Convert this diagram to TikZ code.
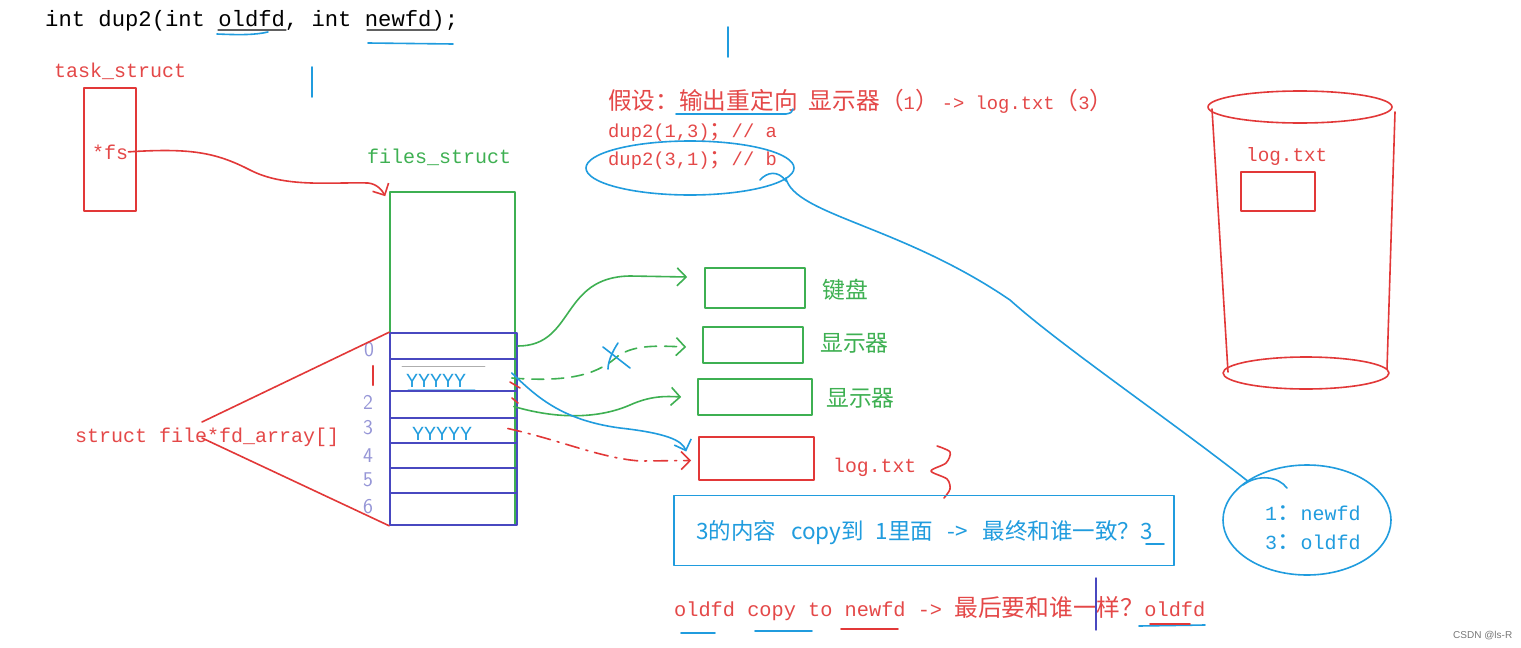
\documentclass[tikz,border=0pt]{standalone}
\usepackage{fontspec}
\setmainfont{Liberation Mono}
\newfontfamily\cjk[Scale=1.17]{Noto Sans CJK SC}
\newfontfamily\cjkb[Scale=1.26]{Noto Sans CJK SC}
\newfontfamily\cjkplain{Noto Sans CJK SC}
\newfontfamily\wmfont{Liberation Sans}
\newcommand{\zh}[1]{{\cjk #1}}
\newcommand{\zhb}[1]{{\cjkb #1}}
\usetikzlibrary{arrows.meta,shapes.geometric,calc}
\definecolor{cred}{RGB}{226,56,56}
\definecolor{tred}{RGB}{228,72,72}
\definecolor{cgreen}{RGB}{62,176,82}
\definecolor{cblue}{RGB}{32,156,222}
\definecolor{cindigo}{RGB}{72,72,192}
\definecolor{clav}{RGB}{150,150,215}
\definecolor{cgray}{RGB}{120,120,120}
\tikzset{
  fsz/.style={font=\fontsize{#1}{#1}\selectfont},
  lw/.style={line width=1.6pt},
  txt/.style={anchor=base west, inner sep=0pt},
  redbox/.style={draw=cred, line width=1.6pt, inner sep=0pt},
  greenbox/.style={draw=cgreen, line width=1.6pt, inner sep=0pt},
  rowbox/.style={draw=cindigo, line width=1.6pt, inner sep=0pt, minimum width=127},
  digit/.style={text=clav, inner sep=0pt, font={\sffamily\fontsize{21}{21}\selectfont}},
  barb/.style={-{Straight Barb[length=9pt,width=18pt]}}
}
\begin{document}
\begin{tikzpicture}[x=1pt,y=-1pt, line cap=round, line join=round]
\useasboundingbox[fill=white] (0,0) rectangle (1521,648);

% signature
\node[txt, fsz=22.2] (sig) at (45,26) {int dup2(int oldfd, int newfd);};
\draw[cgray!80!black, line width=1.2pt] (218,30) -- (286,30);
\draw[cgray!80!black, line width=1.2pt] (367,30) -- (435,30);
\draw[cblue, lw] (217,34) .. controls (240,35) and (255,35) .. (268,32);
\draw[cblue, lw] (368,43) -- (453,44);
\draw[cblue, lw] (312,67) -- (312,97);
\draw[cblue, lw] (728,27) -- (728,57);

% task_struct
\node[txt, text=tred, fsz=20] (tasklbl) at (54,77) {task\_struct};
\node[redbox, minimum width=52, minimum height=123] (task) at (110,149.5) {};
\node[txt, text=tred, fsz=20] (fs) at (92,159) {*fs};

% files_struct
\node[txt, text=cgreen, fsz=20] (fileslbl) at (367,163) {files\_struct};
\node[greenbox, minimum width=125, minimum height=333] (files) at (452.5,358.5) {};

\node[rowbox, minimum height=26] (r0) at (453.5,346) {};
\node[rowbox, minimum height=32] (r1) at (453.5,375) {};
\node[rowbox, minimum height=27] (r2) at (453.5,404.5) {};
\node[rowbox, minimum height=25] (r3) at (453.5,430.5) {};
\node[rowbox, minimum height=25] (r4) at (453.5,455.5) {};
\node[rowbox, minimum height=25] (r5) at (453.5,480.5) {};
\node[rowbox, minimum height=32] (r6) at (453.5,509) {};

\draw[cgray!60, line width=0.8pt] (402,366) -- (485,366);
\node[txt, text=cblue, fsz=20] (y1) at (406,387) {YYYYY};
\draw[cblue!50, line width=0.8pt] (408,389) -- (475,389);
\node[txt, text=cblue, fsz=20] (y3) at (412,440) {YYYYY};

% index digits
\node[digit] (d0) at (369,350) {0};
\draw[cred, line width=2.2pt] (373,366) -- (373,385);
\node[digit] (dg2) at (368,402) {2};
\node[digit] (dg3) at (368,428) {3};
\node[digit] (dg4) at (368,456) {4};
\node[digit] (dg5) at (368,480) {5};
\node[digit] (dg6) at (368,507) {6};

% fd_array
\node[txt, text=tred, fsz=20] (fdarr) at (75,442) {struct file*fd\_array[]};
\draw[cred, lw] (202,422) -- (r0.north west);
\draw[cred, lw] (202,438) -- (r6.south west);

% fs arrow
\draw[cred, lw, barb] (fs.east) .. controls (190,148) and (215,152) .. (250,170)
  .. controls (285,188) and (330,182) .. (368,183)
  .. controls (377,184) and (382,190) .. ($(files.north west)+(-4,5)$);

% right boxes
\node[greenbox, minimum width=100, minimum height=40] (kb) at (755,288) {};
\node[anchor=west, inner sep=0pt, text=cgreen, fsz=19.5] (kblbl) at (822,290) {\zh{键盘}};
\node[greenbox, minimum width=100, minimum height=36] (d1) at (753,345) {};
\node[anchor=west, inner sep=0pt, text=cgreen, fsz=19.5] (d1lbl) at (820,343) {\zh{显示器}};
\node[greenbox, minimum width=114, minimum height=36] (d2) at (755,397) {};
\node[anchor=west, inner sep=0pt, text=cgreen, fsz=19.5] (d2lbl) at (826,398) {\zh{显示器}};
\node[redbox, minimum width=115, minimum height=43] (lg) at (756.5,458.5) {};
\node[txt, text=tred, fsz=19.8] (lglbl) at (833,472) {log.txt};
\draw[cred, lw] plot[smooth] coordinates {(937,446) (950,452) (946,463) (931,471) (947,479) (950,489) (944,498)};

% connectors from the array
\draw[cgreen, lw, barb] (r0.east) .. controls (575,346) and (560,277) .. (630,276) -- ($(kb.west)+(-17,-11)$);
\draw[cgreen, lw, dash pattern=on 12pt off 8pt, barb] ($(r1.east)+(-6,3)$) .. controls (575,383) and (600,372) .. (618,356)
  .. controls (635,344) and (660,346) .. ($(d1.west)+(-16,2)$);
\draw[cblue, lw] (603,347) -- (630,368);
\draw[cblue, lw] (618,343) .. controls (612,352) and (608,362) .. (608,369);
\draw[cgreen, lw, barb] ($(r2.east)+(-4,2)$) .. controls (560,420) and (600,418) .. (630,405)
  .. controls (650,396) and (665,396) .. ($(d2.west)+(-16,0)$);
\draw[cred, lw] (510,382) -- (520,388);
\draw[cred, lw] (512,398) -- (518,403);
\draw[cblue, lw, barb] ($(r1.east)+(-6,-2)$) .. controls (535,395) and (560,420) .. (620,428)
  .. controls (665,433) and (682,440) .. ($(lg.west)+(-12,-7)$);
\draw[cred, lw, dash pattern=on 14pt off 7pt on 2pt off 7pt, barb] ($(r3.east)+(-10,-2)$) .. controls (560,440) and (600,458) .. (640,461) -- ($(lg.west)+(-7,2)$);

% top-middle red text
\node[txt, text=tred, fsz=18.8] (assume) at (608,109) {\zhb{假设：输出重定向} \zhb{显示器（}1\zhb{）}\,-> log.txt\zhb{（}3\zhb{）}};
\draw[cblue, lw] (676,114) -- (786,114) .. controls (791,113) .. (793,109);
\node[txt, text=tred, fsz=18.8] (dupa) at (608,137) {dup2(1,3)\zh{；}// a};
\node[txt, text=tred, fsz=18.8] (dupb) at (608,165) {dup2(3,1)\zh{；}// b};
\node[draw=cblue, lw, ellipse, minimum width=208, minimum height=54, inner sep=0pt] (circb) at (690,168) {};
\draw[cblue, lw] (760,180) .. controls (767,172) and (778,170) .. (786,181);

% cylinder
\draw[cred, lw] (1300,107) ellipse [x radius=92, y radius=16];
\draw[cred, lw] (1306,373) ellipse [x radius=83, y radius=16];
\draw[cred, lw] (1212,109) -- (1228,372);
\draw[cred, lw] (1395,112) -- (1387,369);
\node[txt, text=tred, fsz=19.3] (cyllbl) at (1246,161) {log.txt};
\node[redbox, minimum width=74, minimum height=39] (cylbox) at (1278,191.5) {};

% fd map ellipse
\node[draw=cblue, lw, ellipse, minimum width=168, minimum height=110, inner sep=0pt] (fdmap) at (1307,520) {};
\node[txt, text=cblue, fsz=20] (m1) at (1265,520) {1\zh{：}newfd};
\node[txt, text=cblue, fsz=20] (m3) at (1265,549) {3\zh{：}oldfd};
\draw[cblue, lw] (1243,485) .. controls (1258,474) and (1278,476) .. (1287,488);
\draw[cblue, lw] ($(circb.east)+(-9,10)$) .. controls (795,215) and (900,225) .. (1010,300)
  .. controls (1060,345) and (1170,420) .. (fdmap.north west);

% summary box
\node[draw=cblue, lw, minimum width=500, minimum height=70, inner sep=0pt] (sumbox) at (924,530.5) {};
\node[txt, text=cblue, font={\cjkplain\fontsize{22.5}{24}\selectfont}] (sumtxt) at (696,539) {3的内容\hspace{15pt}copy到\hspace{12pt}1里面\hspace{14pt}->\hspace{15pt}最终和谁一致？3};
\draw[cblue, lw] (1146,544) -- (1164,544);

% conclusion
\node[txt, text=tred, fsz=20.3] (concl) at (674,616) {oldfd copy to newfd -> \zh{最后要和谁一样？}oldfd};
\draw[cblue, lw] (681,633) -- (715,633);
\draw[cblue, lw] (755,631) -- (812,631);
\draw[cred, lw] (841,629) -- (898,629);
\draw[cblue, lw] (1139,626) -- (1205,625);
\draw[cred, lw] (1150,624) -- (1190,624);
\draw[cindigo, line width=1.4pt] (1096,578) -- (1096,630);

% watermark
\node[txt, text=cgray, font={\wmfont\fontsize{10}{10}\selectfont}] (wm) at (1453,638) {CSDN @ls-R};
\end{tikzpicture}
\end{document}
